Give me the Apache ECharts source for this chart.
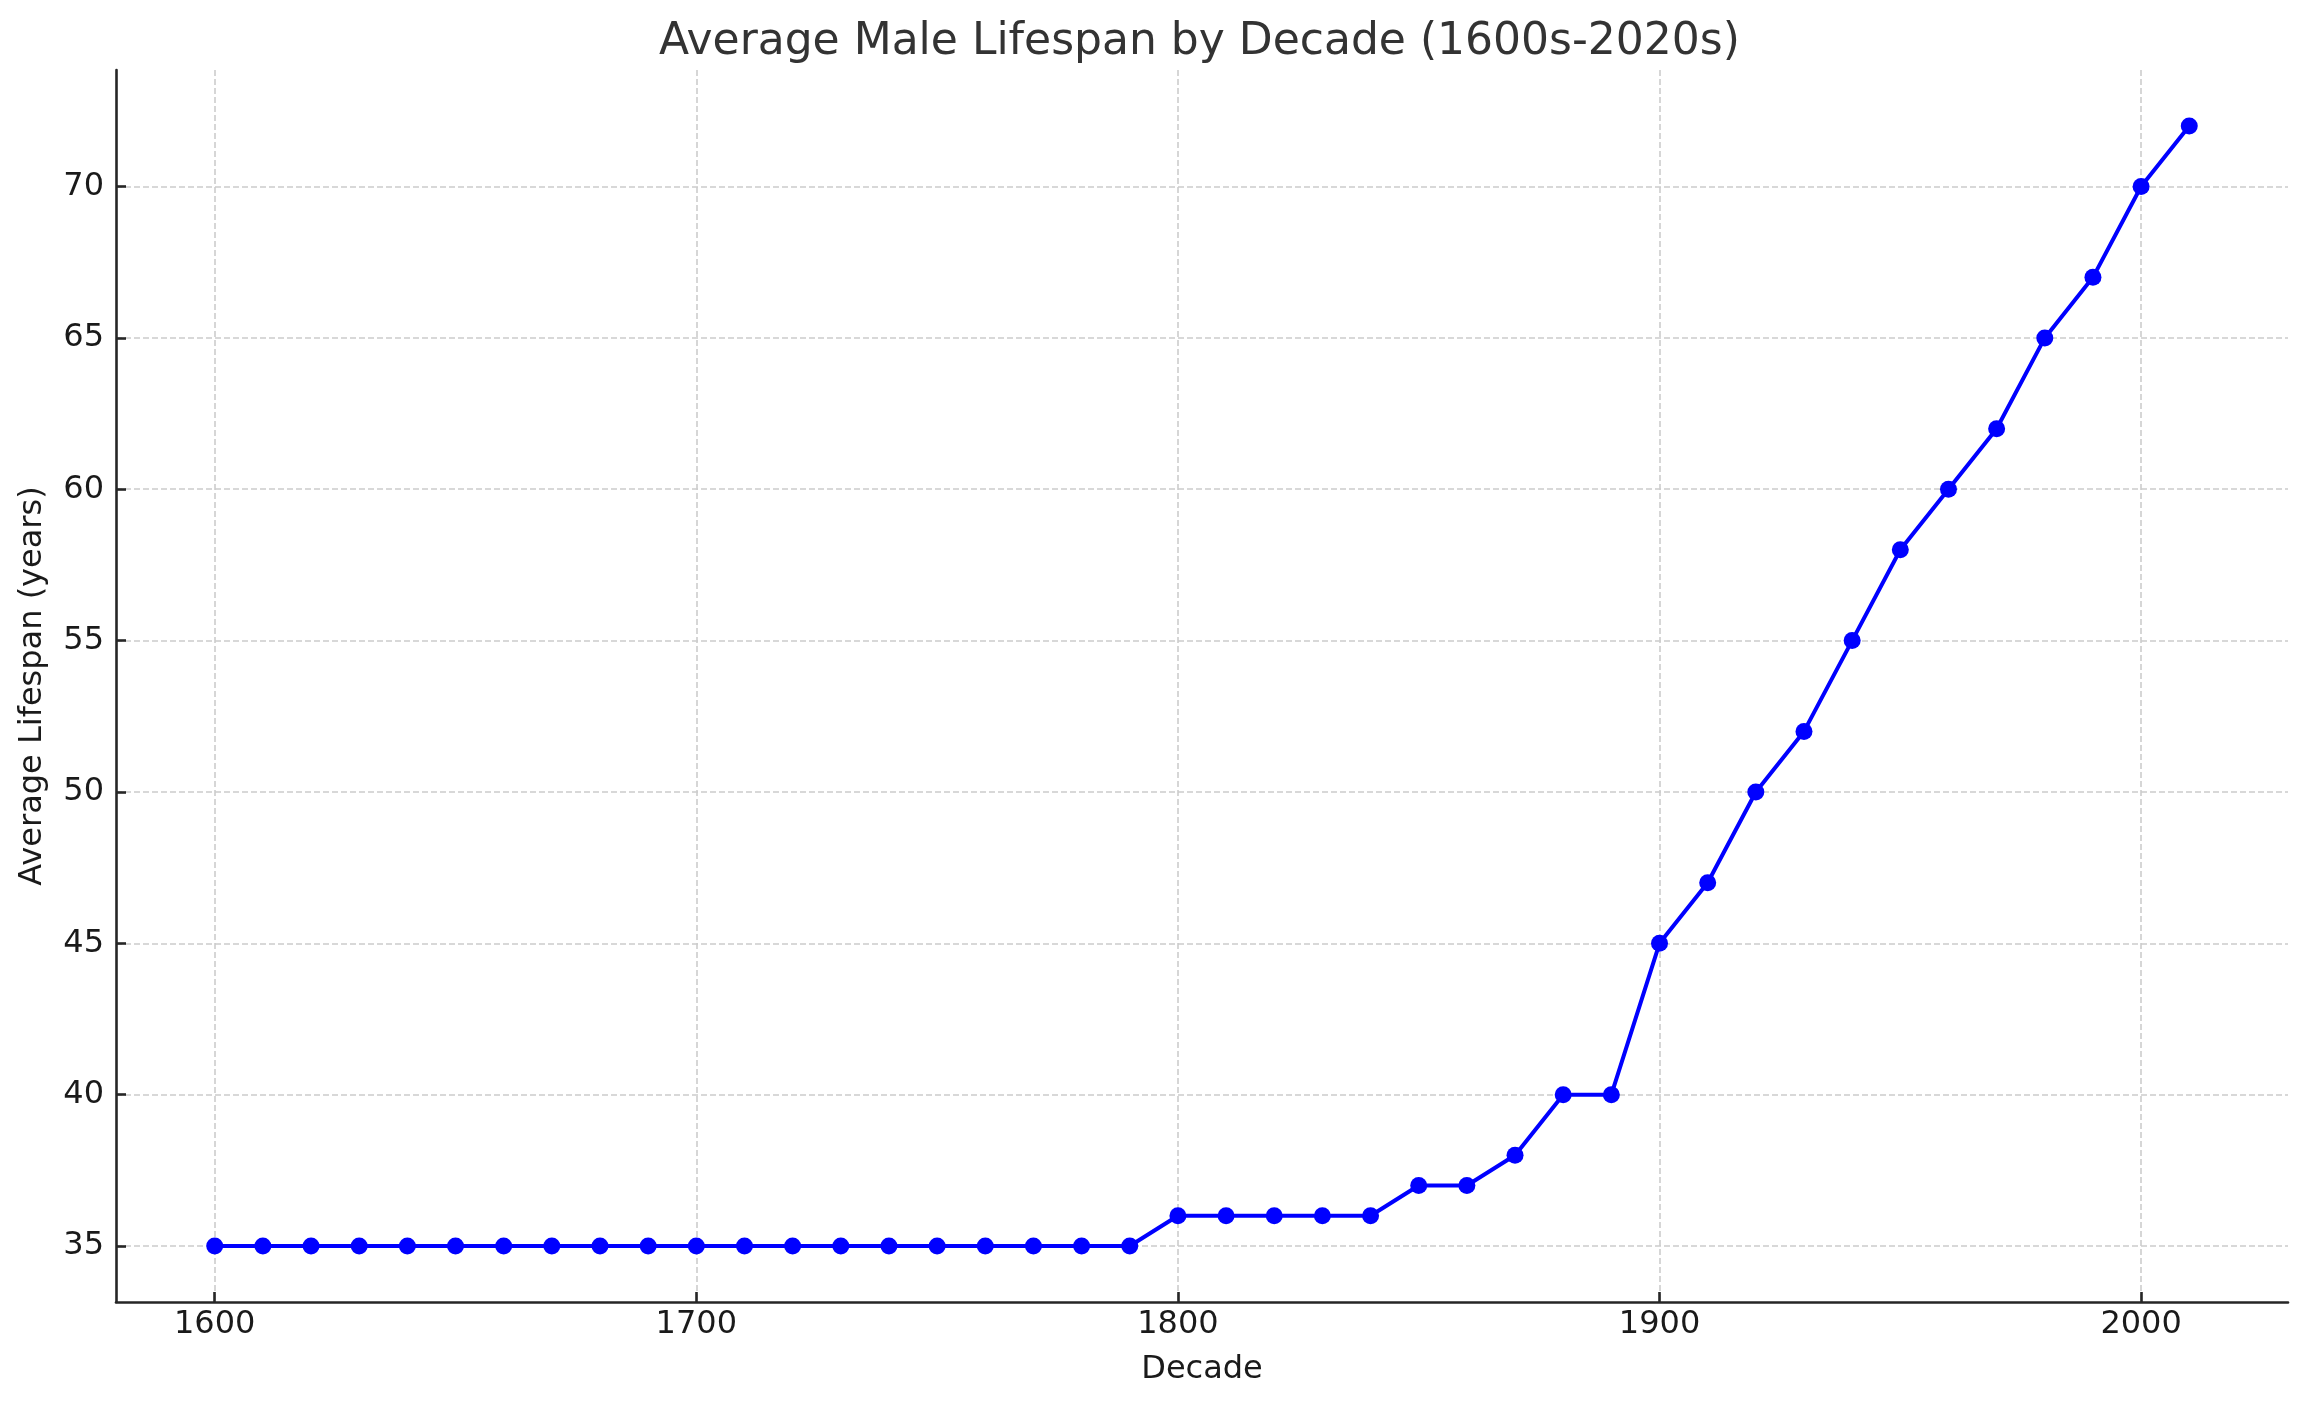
<!DOCTYPE html>
<html>
<head>
<meta charset="utf-8">
<script src="https://cdn.jsdelivr.net/npm/echarts@6/dist/echarts.min.js"></script>
<style>
  html, body { margin: 0; padding: 0; background: #ffffff; }
  #chart { width: 2306px; height: 1409px; }
</style>
</head>
<body>
<div id="chart"></div>
<script>
const decades = [1600, 1610, 1620, 1630, 1640, 1650, 1660, 1670, 1680, 1690,
                 1700, 1710, 1720, 1730, 1740, 1750, 1760, 1770, 1780, 1790,
                 1800, 1810, 1820, 1830, 1840, 1850, 1860, 1870, 1880, 1890,
                 1900, 1910, 1920, 1930, 1940, 1950, 1960, 1970, 1980, 1990,
                 2000, 2010];
const lifespan = [35, 35, 35, 35, 35, 35, 35, 35, 35, 35,
                  35, 35, 35, 35, 35, 35, 35, 35, 35, 35,
                  36, 36, 36, 36, 36, 37, 37, 38, 40, 40,
                  45, 47, 50, 52, 55, 58, 60, 62, 65, 67,
                  70, 72];
const xTicks = [1600, 1700, 1800, 1900, 2000];
const yTicks = [35, 40, 45, 50, 55, 60, 65, 70];

const titleText = 'Average Male Lifespan by Decade (1600s-2020s)';
const xName = 'Decade';
const yName = 'Average Lifespan (years)';

const font = 'DejaVu Sans';
const axisColor = '#262626';
const gridStyle = { color: '#cccccc', width: 1.6, type: [6, 3] };

const chart = echarts.init(document.getElementById('chart'), null, { renderer: 'canvas' });
chart.setOption({
  animation: false,
  backgroundColor: '#ffffff',
  title: {
    text: titleText,
    left: 654,
    top: 16,
    textStyle: { fontFamily: font, fontSize: 44, fontWeight: 'normal', color: '#333333' }
  },
  grid: { left: 116, right: 18, top: 70, bottom: 107, containLabel: false },
  xAxis: {
    type: 'value',
    min: 1579.5,
    max: 2030.5,
    name: xName,
    nameLocation: 'middle',
    nameGap: 52,
    nameTextStyle: { fontFamily: font, fontSize: 32, color: '#1a1a1a' },
    axisLine: { show: true, onZero: false, lineStyle: { color: axisColor, width: 2.6 } },
    axisTick: { show: true, inside: true, length: 10, customValues: xTicks, lineStyle: { color: axisColor, width: 2.6 } },
    axisLabel: { show: true, margin: 7, customValues: xTicks, formatter: v => String(v), fontFamily: font, fontSize: 32, color: '#1a1a1a' },
    splitLine: { show: true, lineStyle: gridStyle }
  },
  yAxis: {
    type: 'value',
    min: 33.15,
    max: 73.85,
    name: yName,
    nameLocation: 'middle',
    nameGap: 67,
    nameTextStyle: { fontFamily: font, fontSize: 32, color: '#1a1a1a' },
    axisLine: { show: true, onZero: false, lineStyle: { color: axisColor, width: 2.6 } },
    axisTick: { show: true, inside: true, length: 10, customValues: yTicks, lineStyle: { color: axisColor, width: 2.6 } },
    axisLabel: { show: true, margin: 12, customValues: yTicks, formatter: v => String(v), fontFamily: font, fontSize: 32, color: '#1a1a1a' },
    splitLine: { show: true, lineStyle: gridStyle }
  },
  series: [{
    type: 'line',
    data: decades.map((d, i) => [d, lifespan[i]]),
    symbol: 'circle',
    symbolSize: 17,
    showAllSymbol: true,
    lineStyle: { color: '#0000ff', width: 4 },
    itemStyle: { color: '#0000ff' },
    emphasis: { disabled: true }
  }]
});
</script>
</body>
</html>
